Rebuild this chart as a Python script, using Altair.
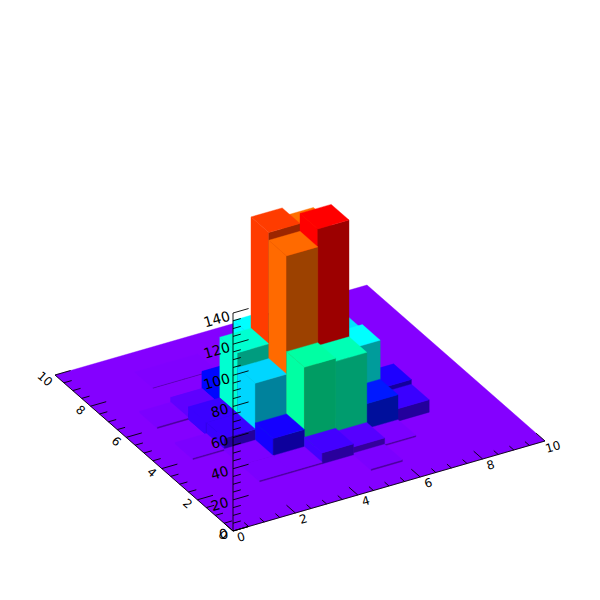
import colorsys
import altair as alt
import pandas as pd

# bar cells: corner x, corner y, height
cell_x = [2, 3, 1, 1, 2, 2, 3, 2, 2, 3, 5, 6, 2, 2, 2, 3, 3, 3, 3, 4, 4, 4, 4, 5, 5, 5, 6, 6, 6, 7, 7, 4, 5]
cell_y = [8, 8, 6, 4, 3, 2, 2, 6, 5, 6, 1, 2, 4, 5, 6, 3, 4, 5, 6, 2, 3, 4, 5, 2, 3, 4, 3, 4, 5, 3, 4, 6, 5]
cell_h = [.4, .4, 1, 1, 1, 1, 1, 4, 8, 15, 1, 1, 8, 8, 4, 12, 37.5, 47, 15, 7, 52, 113.5, 118.5, 5, 50, 125, 17, 42, 39, 8, 11, 42, 113]

x_ticks = [i * 0.5 for i in range(21)]
z_ticks = [i * 5 for i in range(29)]

O = (233.0, 531.0)
UX = (31.2, -9.0)
UY = (-17.8, -15.6)
UZ = 1.557
V_MAX = 125.0
DARK = 0.61
HUE0 = 271.0


def proj(x, y, z=0.0):
    return (O[0] + UX[0] * x + UY[0] * y, O[1] + UX[1] * x + UY[1] * y - UZ * z)


def colour(v, k=1.0):
    hue = max(0.0, HUE0 * (1 - v / V_MAX)) / 360.0
    r, g, b = colorsys.hsv_to_rgb(hue, 1.0, k)
    return "#%02x%02x%02x" % (round(r * 255), round(g * 255), round(b * 255))


rows = []
pid = 0


def poly(points, fill):
    global pid
    for i, (a, b) in enumerate(points):
        rows.append({"poly": f"p{pid:04d}", "i": i, "X": a, "Y": b, "fill": fill})
    pid += 1


poly([proj(0, 0), proj(10, 0), proj(10, 10), proj(0, 10)], colour(0))
cells = list(zip(cell_x, cell_y, cell_h))
cells.sort(key=lambda c: -(c[0] + c[1]))
for cx, cy, h in cells:
    c, d = colour(h), colour(h, DARK)
    poly([proj(cx, cy, 0), proj(cx, cy + 1, 0), proj(cx, cy + 1, h), proj(cx, cy, h)], c)
    poly([proj(cx, cy, 0), proj(cx + 1, cy, 0), proj(cx + 1, cy, h), proj(cx, cy, h)], d)
    poly([proj(cx, cy, h), proj(cx + 1, cy, h), proj(cx + 1, cy + 1, h), proj(cx, cy + 1, h)], c)

segs = []


def seg(a, b):
    segs.append({"X": a[0], "Y": a[1], "X2": b[0], "Y2": b[1]})


seg(proj(0, 0), proj(10, 0))
seg(proj(0, 0), proj(0, 10))
seg(proj(0, 0, 0), proj(0, 0, 140))
for t in x_ticks:
    ln = 0.5 if t % 2 == 0 else 0.25
    seg(proj(t, 0), proj(t, ln))
    seg(proj(0, t), proj(ln, t))
for z in z_ticks:
    ln = 0.5 if z % 20 == 0 else 0.25
    seg(proj(0, 0, z), proj(ln, 0, z))

labels = []
for t in range(0, 11, 2):
    a = proj(t, 0)
    labels.append({"X": a[0] + 8, "Y": a[1] + 6, "T": str(t), "A": 344, "S": 12})
    a = proj(0, t)
    labels.append({"X": a[0] - 10, "Y": a[1] + 4, "T": str(t), "A": 41, "S": 12})
for z in range(0, 141, 20):
    a = proj(0, 0, z)
    if z == 0:
        dx, dy = -9, 4
    elif z >= 100:
        dx, dy = -16, 7
    else:
        dx, dy = -13, 5
    labels.append({"X": a[0] + dx, "Y": a[1] + dy, "T": str(z), "A": 344, "S": 14})

xs = alt.Scale(domain=[8, 592], nice=False, zero=False)
ys = alt.Scale(domain=[592, 8], nice=False, zero=False)
X = alt.X("X:Q", scale=xs, axis=None)
Y = alt.Y("Y:Q", scale=ys, axis=None)

faces = alt.Chart(pd.DataFrame(rows)).mark_line(
    filled=True, interpolate="linear-closed", strokeWidth=0.4
).encode(x=X, y=Y, detail="poly:N", order=alt.Order("i:Q"),
         fill=alt.Fill("fill:N", scale=None),
         stroke=alt.Stroke("fill:N", scale=None))
rules = alt.Chart(pd.DataFrame(segs)).mark_rule(color="black", strokeWidth=0.9).encode(
    x=X, y=Y, x2="X2:Q", y2="Y2:Q")
text = alt.Chart(pd.DataFrame(labels)).mark_text(
    font="DejaVu Sans", color="black", align="center", baseline="middle"
).encode(x=X, y=Y, text="T:N", angle=alt.Angle("A:Q", scale=None),
         size=alt.Size("S:Q", scale=None))

chart = alt.layer(faces, rules, text).properties(
    width=584, height=584, padding=0, autosize=alt.AutoSizeParams(type="none")
).configure_view(stroke=None)
chart.save("out.html", embed_options={"renderer": "svg", "actions": False})
